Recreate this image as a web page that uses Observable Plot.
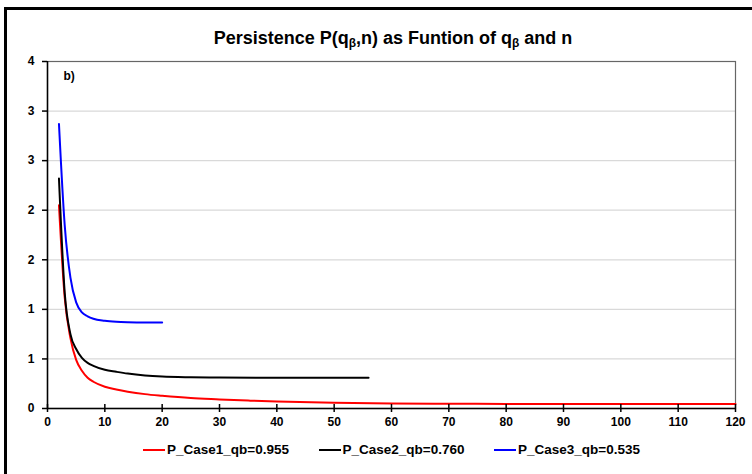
<!DOCTYPE html>
<html>
<head>
<meta charset="utf-8">
<script src="https://cdn.jsdelivr.net/npm/d3@7"></script>
<script src="https://cdn.jsdelivr.net/npm/@observablehq/plot@0.6"></script>
<style>
  html, body { margin: 0; padding: 0; background: #fff; }
  body { width: 752px; height: 474px; position: relative; overflow: hidden; font-family: "Liberation Sans", Arial, sans-serif; }
  #frame { position: absolute; left: 4px; top: 7px; width: 800px; height: 520px; border: 3px solid #000; box-sizing: border-box; }
  #chart { position: absolute; left: 0; top: 0; }
  #title { position: absolute; left: 0; width: 786px; top: 28px; text-align: center; font-weight: bold; font-size: 18px; color: #000; }
  #title sub { font-size: 12px; vertical-align: -3px; line-height: 0; }
  #legend { position: absolute; left: 143px; top: 442px; font-weight: bold; font-size: 13.5px; }
  .item { position: absolute; top: 0; display: flex; align-items: center; white-space: nowrap; }
  .sw { width: 22px; height: 2px; margin-right: 2px; }
</style>
</head>
<body>
<div id="frame"></div>
<div id="chart"></div>
<div id="title">Persistence P(q<sub>β</sub>,n) as Funtion of q<sub>β</sub> and n</div>
<div id="legend"></div>
<script>
// Series data
const seriesNames = ["P_Case1_qb=0.955", "P_Case2_qb=0.760", "P_Case3_qb=0.535"];
const seriesColors = ["#ff0000", "#000000", "#0000ff"];

const case1N = [2, 3, 4, 5, 6, 7, 8, 10, 12, 14, 17, 20, 25, 30, 35, 40, 50, 60, 70, 80, 90, 100, 110, 120];
const case1P = [2.05, 1.12, 0.71, 0.49, 0.38, 0.31, 0.27, 0.22, 0.192, 0.17, 0.145, 0.128, 0.105, 0.092, 0.08, 0.07, 0.058, 0.051, 0.048, 0.046, 0.045, 0.045, 0.045, 0.045];

const case2N = [2, 3, 4, 5, 6, 7, 8, 10, 12, 14, 17, 20, 25, 30, 40, 50, 56];
const case2P = [2.32, 1.17, 0.75, 0.60, 0.51, 0.46, 0.43, 0.39, 0.37, 0.352, 0.333, 0.322, 0.315, 0.312, 0.31, 0.31, 0.31];

const case3N = [2, 3, 4, 5, 6, 7, 8, 10, 12, 14, 17, 20];
const case3P = [2.87, 1.85, 1.32, 1.07, 0.97, 0.93, 0.905, 0.885, 0.875, 0.87, 0.867, 0.867];

const xTicks = [0, 10, 20, 30, 40, 50, 60, 70, 80, 90, 100, 110, 120];
const yTicks = [0, 0.5, 1, 1.5, 2, 2.5, 3, 3.5];
const yTickLabels = ["0", "1", "1", "2", "2", "3", "3", "4"];
const panelLabel = "b)";

const rows = [];
[[case1N, case1P], [case2N, case2P], [case3N, case3P]].forEach(([ns, ps], k) => {
  ns.forEach((n, i) => rows.push({series: seriesNames[k], n, p: ps[i]}));
});

const fontStyle = {fontFamily: "'Liberation Sans', Arial, sans-serif", fontWeight: "bold", fontSize: "12px"};

const chart = Plot.plot({
  width: 752,
  height: 474,
  marginTop: 61,
  marginBottom: 66,
  marginLeft: 47,
  marginRight: 17,
  style: {...fontStyle, color: "#000", background: "transparent", overflow: "visible"},
  x: {domain: [0, 120], label: null},
  y: {domain: [0, 3.5], label: null},
  color: {domain: seriesNames, range: seriesColors},
  marks: [
    Plot.gridY(yTicks.slice(1), {stroke: "#d9d9d9", strokeOpacity: 1, strokeWidth: 1.2}),
    Plot.frame({stroke: "#666", strokeWidth: 1.2}),
    Plot.line(rows, {x: "n", y: "p", z: "series", stroke: "series", strokeWidth: 2, curve: "monotone-x"}),
    Plot.ruleX(xTicks, {x: d => d, y1: 0, y2: 0, insetTop: -4, insetBottom: -4, stroke: "#000", strokeWidth: 1.5}),
    Plot.axisX({ticks: xTicks, tickSize: 0, tickPadding: 9, tickFormat: d => String(d), label: null, ...fontStyle, fill: "#000"}),
    Plot.axisY({ticks: yTicks, tickSize: 5, tickPadding: 8, tickFormat: (d, i) => yTickLabels[i], label: null, stroke: "#000", strokeWidth: 1.5, ...fontStyle, fill: "#000"}),
    Plot.ruleY([0], {stroke: "#000", strokeWidth: 1.5}),
    Plot.ruleX([0], {stroke: "#000", strokeWidth: 1.5}),
    Plot.text([panelLabel], {frameAnchor: "top-left", dx: 16, dy: 10, text: d => d, textAnchor: "start", lineAnchor: "top", ...fontStyle, fontSize: 12, fill: "#000"})
  ]
});
document.getElementById("chart").appendChild(chart);

const legend = document.getElementById("legend");
seriesNames.forEach((name, i) => {
  const item = document.createElement("div");
  item.className = "item";
  item.style.left = (i * 175.5) + "px";
  const sw = document.createElement("span");
  sw.className = "sw";
  sw.style.background = seriesColors[i];
  const lab = document.createElement("span");
  lab.textContent = name;
  item.appendChild(sw);
  item.appendChild(lab);
  legend.appendChild(item);
});
</script>
</body>
</html>
